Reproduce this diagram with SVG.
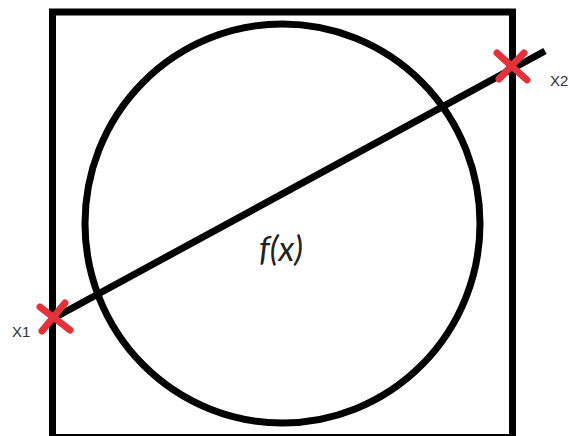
<svg xmlns="http://www.w3.org/2000/svg" width="570" height="436" viewBox="0 0 570 436">
<style>
.blk{fill:none;stroke:#000;stroke-width:7}
.mark{stroke:#e2323c;stroke-width:7;stroke-linecap:round}
.lbl{font-family:"Liberation Sans",Arial,sans-serif;font-size:15px;fill:#333}
.fx{font-family:Lato,"Liberation Sans",sans-serif;font-style:italic;font-size:34px;fill:#222}
</style>
<rect width="570" height="436" fill="#fff"/>
<g id="square"><rect class="blk" x="52.5" y="12" width="460" height="425.5"/></g>
<g id="circle"><ellipse class="blk" cx="282.5" cy="223.5" rx="197.5" ry="199.5" stroke-width="6"/></g>
<g id="connectors"><line class="blk" x1="54" y1="318" x2="545" y2="51"/></g>
<g id="x1">
<line class="mark" x1="40" y1="307" x2="70" y2="330"/>
<line class="mark" x1="65" y1="303" x2="42" y2="331"/>
<text class="lbl" x="12" y="337">X1</text>
</g>
<g id="x2">
<line class="mark" x1="497" y1="53" x2="527" y2="80"/>
<line class="mark" x1="524" y1="53" x2="499" y2="79"/>
<text class="lbl" x="550" y="86">X2</text>
</g>
<g id="fx"><text class="fx" x="281" y="261" text-anchor="middle">f(x)</text></g>
</svg>
